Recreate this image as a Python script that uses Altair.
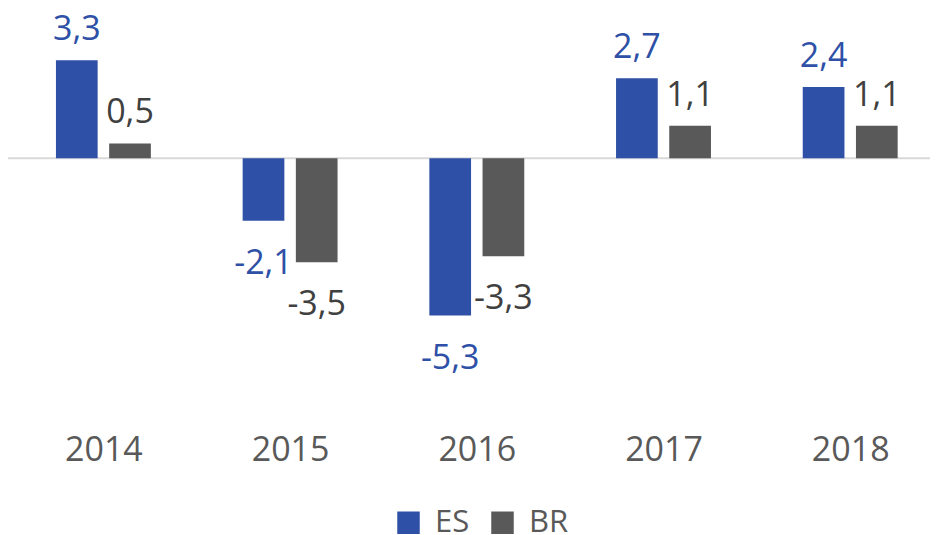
import altair as alt
import pandas as pd

years = ["2014", "2015", "2016", "2017", "2018"]
es_values = [3.3, -2.1, -5.3, 2.7, 2.4]
br_values = [0.5, -3.5, -3.3, 1.1, 1.1]
series = ["ES", "BR"]

BLUE = "#2E50A6"
GREY = "#595959"
FONT = "Open Sans"

# layout constants (in category-step units)
OFFSET = {"ES": -0.1425, "BR": 0.1425}
HALF = 0.1117

rows = []
for i, y in enumerate(years):
    rows.append({"idx": i, "year": y, "series": "ES", "value": es_values[i]})
    rows.append({"idx": i, "year": y, "series": "BR", "value": br_values[i]})
df = pd.DataFrame(rows)
df["label"] = df["value"].map(lambda v: f"{v:.1f}".replace(".", ","))
df["pos"] = df["idx"] + df["series"].map(OFFSET)
df["left"] = df["pos"] - HALF
df["right"] = df["pos"] + HALF

x_scale = alt.Scale(domain=[-0.5110, 4.4274], nice=False, zero=False)
y_scale = alt.Scale(domain=[-9.087, 5.064], nice=False, zero=False)

label_expr = "[" + ",".join(f"'{y}'" for y in years) + "][datum.value]"
x_axis = alt.Axis(title=None, domain=False, ticks=False, grid=False,
                  values=list(range(len(years))), labelExpr=label_expr,
                  labelFontSize=34, labelFont=FONT, labelColor=GREY,
                  labelPadding=22, labelBaseline="middle", labelAngle=0,
                  labelFlush=False, labelOverlap=False)

base = alt.Chart(df)

bars = base.mark_bar().encode(
    x=alt.X("left:Q", scale=x_scale, axis=x_axis),
    x2="right:Q",
    y=alt.Y("value:Q", scale=y_scale, axis=None),
    y2=alt.datum(0),
    color=alt.Color("series:N", sort=series,
                    scale=alt.Scale(domain=series, range=[BLUE, GREY]),
                    legend=alt.Legend(title=None, orient="none", direction="horizontal",
                                      legendX=385, legendY=499,
                                      symbolType="square", symbolSize=506,
                                      symbolStrokeWidth=0, symbolOpacity=1,
                                      labelFontSize=31, labelFont=FONT, labelColor=GREY,
                                      labelOffset=11, columnPadding=17))
)

text_color = alt.Color("series:N", sort=series,
                       scale=alt.Scale(domain=series, range=[BLUE, "#404040"]),
                       legend=None)

pos_text = base.transform_filter("datum.value >= 0").mark_text(
    fontSize=34, font=FONT, baseline="alphabetic", dy=-20
).encode(x=alt.X("pos:Q", scale=x_scale), y=alt.Y("value:Q", scale=y_scale),
         text="label:N", color=text_color)

neg_text = base.transform_filter("datum.value < 0").mark_text(
    fontSize=34, font=FONT, baseline="alphabetic", dy=53
).encode(x=alt.X("pos:Q", scale=x_scale), y=alt.Y("value:Q", scale=y_scale),
         text="label:N", color=text_color)

zero = alt.Chart(pd.DataFrame({"z": [0]})).mark_rule(color="#D9D9D9", strokeWidth=2).encode(
    y=alt.Y("z:Q", scale=y_scale, axis=None)
)

chart = alt.layer(zero, bars, pos_text, neg_text).resolve_scale(
    color="independent"
).properties(
    width=922, height=420,
    autosize=alt.AutoSizeParams(type="none"),
    padding={"left": 0, "top": 0, "right": 0, "bottom": 107},
    background="white",
).configure_view(stroke=None)

chart.save("out.html", embed_options={"renderer": "svg", "actions": False})
